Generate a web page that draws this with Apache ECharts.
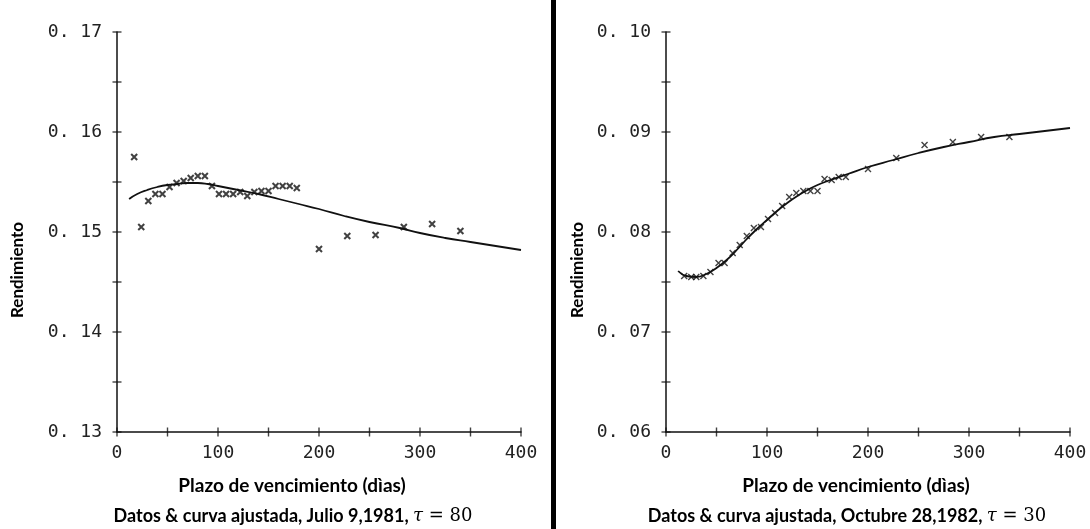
<!DOCTYPE html>
<html>
<head>
<meta charset="utf-8">
<script src="https://cdn.jsdelivr.net/npm/echarts@6/dist/echarts.min.js"></script>
<style>
  html, body { margin: 0; padding: 0; background: #fff; }
  #chart { width: 1090px; height: 529px; }
</style>
</head>
<body>
<div id="chart"></div>
<script>
// datos (plazo en dias, rendimiento)
const leftDays = [17, 24, 31, 38, 45, 52, 59, 66, 73, 80, 87, 94, 101, 108, 115, 122, 129, 136, 143, 150, 157, 164, 171, 178, 200, 228, 256, 284, 312, 340];
const leftYield = [0.1575, 0.1505, 0.1531, 0.1538, 0.1538, 0.1545, 0.1549, 0.1551, 0.1554, 0.1556, 0.1556, 0.1546, 0.1538, 0.1538, 0.1538, 0.1540, 0.1536, 0.1540, 0.1541, 0.1541, 0.1546, 0.1546, 0.1546, 0.1544, 0.1483, 0.1496, 0.1497, 0.1505, 0.1508, 0.1501];
// curva ajustada, Julio 9 1981
const leftCurveDays = [12, 20, 30, 40, 50, 60, 70, 80, 90, 100, 120, 140, 160, 180, 200, 225, 250, 280, 300, 325, 350, 375, 400];
const leftCurveYield = [0.1533, 0.1538, 0.1542, 0.1545, 0.1547, 0.1548, 0.1549, 0.1549, 0.1548, 0.1546, 0.1542, 0.1538, 0.1533, 0.1528, 0.1523, 0.1516, 0.1510, 0.1504, 0.1499, 0.1494, 0.1490, 0.1486, 0.1482];

const rightDays = [18, 25, 30, 37, 44, 52, 58, 66, 73, 80, 87, 94, 101, 108, 115, 122, 129, 136, 143, 150, 157, 164, 171, 178, 200, 228, 256, 284, 312, 340];
const rightYield = [0.0756, 0.0755, 0.0755, 0.0756, 0.0760, 0.0769, 0.0769, 0.0779, 0.0787, 0.0796, 0.0804, 0.0805, 0.0813, 0.0819, 0.0826, 0.0835, 0.0839, 0.0841, 0.0841, 0.0841, 0.0853, 0.0852, 0.0855, 0.0855, 0.0863, 0.0874, 0.0887, 0.0890, 0.0895, 0.0895];
// curva ajustada, Octubre 28 1982
const rightCurveDays = [12, 20, 30, 40, 50, 60, 70, 80, 90, 100, 110, 120, 130, 140, 150, 160, 180, 200, 225, 250, 275, 300, 325, 350, 375, 400];
const rightCurveYield = [0.0761, 0.0756, 0.0755, 0.0758, 0.0764, 0.0772, 0.0782, 0.0793, 0.0803, 0.0812, 0.0821, 0.0829, 0.0836, 0.0842, 0.0847, 0.0851, 0.0858, 0.0865, 0.0872, 0.0879, 0.0885, 0.0890, 0.0895, 0.0898, 0.0901, 0.0904];

// marcas de los ejes (cruzan la linea del eje)
const xTicks = [0, 50, 100, 150, 200, 250, 300, 350, 400];
const leftYTicks = [0.13, 0.135, 0.14, 0.145, 0.15, 0.155, 0.16, 0.165, 0.17];
const rightYTicks = [0.06, 0.065, 0.07, 0.075, 0.08, 0.085, 0.09, 0.095, 0.10];

const leftRange = [0.13, 0.17];
const rightRange = [0.06, 0.10];
const xRange = [0, 400];

const tickFont = 'DejaVu Sans Mono';
const textFont = 'Lato';
const crossSymbol = 'path://M0,0L10,10M10,0L0,10';

function yLabel(v) {
  let k = Math.round(v * 1000);
  if (k % 10 !== 0) return '';
  return '0. ' + String(k / 10).padStart(2, '0');
}
function xLabel(v) {
  return v % 100 === 0 ? String(v) : '';
}

function pairs(xs, ys) {
  return xs.map((x, i) => [x, ys[i]]);
}

function makeX(grid) {
  return {
    type: 'value', gridIndex: grid, min: xRange[0], max: xRange[1], interval: 50,
    axisLine: { show: true, onZero: false, lineStyle: { color: '#111', width: 1.5 } },
    axisTick: { show: false },
    axisLabel: { formatter: xLabel, fontFamily: tickFont, fontSize: 18, color: '#222', margin: 12 },
    splitLine: { show: false }
  };
}
function makeY(grid, range) {
  return {
    type: 'value', gridIndex: grid, min: range[0], max: range[1], interval: 0.005,
    axisLine: { show: true, onZero: false, lineStyle: { color: '#111', width: 1.5 } },
    axisTick: { show: false },
    axisLabel: { formatter: yLabel, fontFamily: tickFont, fontSize: 18, color: '#222', margin: 15 },
    splitLine: { show: false }
  };
}

// series de marcas: rectangulos finos centrados sobre el eje
function tickSeries(grid, vals, onX, base) {
  return {
    type: 'scatter', xAxisIndex: grid, yAxisIndex: grid, clip: false, silent: true,
    symbol: 'rect', symbolSize: onX ? [1.4, 9] : [9, 1.4],
    itemStyle: { color: '#111' },
    data: vals.map(v => onX ? [v, base] : [base, v])
  };
}

const chart = echarts.init(document.getElementById('chart'));

const bigText = 'bold 19px ' + textFont;
const capText = 'bold 18px ' + textFont;
const mathRich = {
  t: { fontFamily: 'DejaVu Serif', fontStyle: 'italic', fontSize: 18, fill: '#000' },
  m: { fontFamily: 'DejaVu Serif', fontSize: 18, fill: '#000' }
};

chart.setOption({
  backgroundColor: '#fff',
  animation: false,
  grid: [
    { left: 117, top: 32, width: 404, height: 400 },
    { left: 666, top: 32, width: 404, height: 400 }
  ],
  xAxis: [makeX(0), makeX(1)],
  yAxis: [makeY(0, leftRange), makeY(1, rightRange)],
  series: [
    tickSeries(0, xTicks, true, leftRange[0]),
    tickSeries(0, leftYTicks, false, xRange[0]),
    tickSeries(1, xTicks, true, rightRange[0]),
    tickSeries(1, rightYTicks, false, xRange[0]),
    {
      type: 'line', xAxisIndex: 0, yAxisIndex: 0, smooth: true, showSymbol: false,
      lineStyle: { color: '#111', width: 1.8 },
      data: pairs(leftCurveDays, leftCurveYield)
    },
    {
      type: 'scatter', xAxisIndex: 0, yAxisIndex: 0, symbol: crossSymbol, symbolSize: 6,
      itemStyle: { color: 'none', borderColor: '#111', borderWidth: 2 },
      data: pairs(leftDays, leftYield)
    },
    {
      type: 'line', xAxisIndex: 1, yAxisIndex: 1, smooth: true, showSymbol: false,
      lineStyle: { color: '#111', width: 1.8 },
      data: pairs(rightCurveDays, rightCurveYield)
    },
    {
      type: 'scatter', xAxisIndex: 1, yAxisIndex: 1, symbol: crossSymbol, symbolSize: 6,
      itemStyle: { color: 'none', borderColor: '#111', borderWidth: 1.4 },
      data: pairs(rightDays, rightYield)
    }
  ],
  graphic: [
    // separador
    { type: 'rect', shape: { x: 551, y: 0, width: 5, height: 529 }, style: { fill: '#000' } },
    { type: 'text', x: 18, y: 270, rotation: Math.PI / 2,
      style: { text: 'Rendimiento', font: 'bold 17px ' + textFont, fill: '#000', align: 'center', verticalAlign: 'middle' } },
    { type: 'text', x: 578, y: 270, rotation: Math.PI / 2,
      style: { text: 'Rendimiento', font: 'bold 17px ' + textFont, fill: '#000', align: 'center', verticalAlign: 'middle' } },
    { type: 'text', x: 292, y: 486,
      style: { text: 'Plazo de vencimiento (dìas)', font: bigText, fill: '#000', align: 'center', verticalAlign: 'middle' } },
    { type: 'text', x: 856, y: 486,
      style: { text: 'Plazo de vencimiento (dìas)', font: bigText, fill: '#000', align: 'center', verticalAlign: 'middle' } },
    { type: 'text', x: 293, y: 516,
      style: {
        text: 'Datos & curva ajustada, Julio 9,1981, {t|τ}{m| = 80}',
        font: capText, fill: '#000', align: 'center', verticalAlign: 'middle', rich: mathRich
      } },
    { type: 'text', x: 847, y: 516,
      style: {
        text: 'Datos & curva ajustada, Octubre 28,1982, {t|τ}{m| = 30}',
        font: capText, fill: '#000', align: 'center', verticalAlign: 'middle', rich: mathRich
      } }
  ]
});
</script>
</body>
</html>
